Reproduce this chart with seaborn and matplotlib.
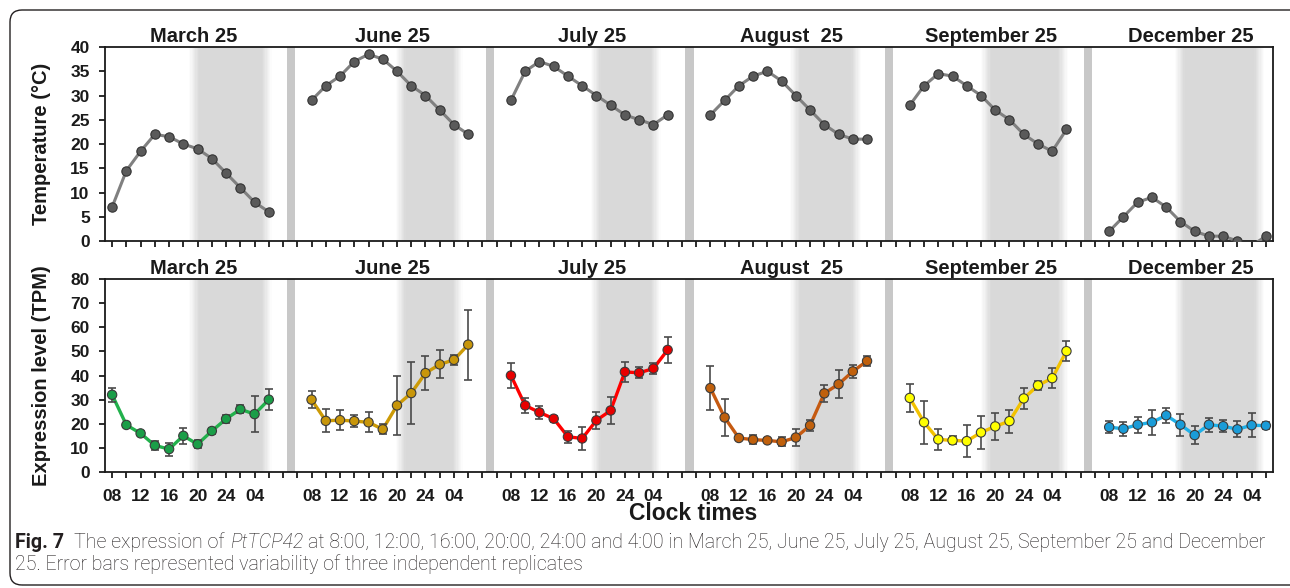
import numpy as np
import pandas as pd
import matplotlib
matplotlib.use("Agg")
import matplotlib.pyplot as plt
import matplotlib.transforms as mtransforms
from matplotlib.patches import FancyBboxPatch
import seaborn as sns

# ── data ───────────────────────────────────────────────────────────────
MONTHS = ["March 25", "June 25", "July 25", "August  25", "September 25", "December 25"]
HOURS = ["08", "10", "12", "14", "16", "18", "20", "22", "24", "02", "04", "06"]

temp_march = [7, 14.5, 18.5, 22, 21.5, 20, 19, 17, 14, 11, 8, 6]
temp_june  = [29, 32, 34, 37, 38.5, 37.5, 35, 32, 30, 27, 24, 22]
temp_july  = [29, 35, 37, 36, 34, 32, 30, 28, 26, 25, 24, 26]
temp_aug   = [26, 29, 32, 34, 35, 33, 30, 27, 24, 22, 21, 21]
temp_sep   = [28, 32, 34.5, 34, 32, 30, 27, 25, 22, 20, 18.5, 23]
temp_dec   = [2, 5, 8, 9, 7, 4, 2, 1, 1, 0, -1, 1]

expr_march = [32, 19.5, 16, 11, 9.5, 15, 11.5, 17, 22, 26, 24, 30]
expr_june  = [30, 21.2, 21.5, 21.1, 20.6, 17.7, 27.6, 32.7, 41, 44.6, 46.5, 52.8]
expr_july  = [40, 27.6, 24.7, 22.1, 14.6, 13.9, 21.4, 25.5, 41.5, 41.1, 42.9, 50.6]
expr_aug   = [34.8, 22.6, 14.1, 13.4, 13.1, 12.5, 14.3, 19.3, 32.6, 36.4, 41.7, 46]
expr_sep   = [30.7, 20.6, 13.5, 13.1, 12.8, 16.4, 18.9, 21.1, 30.5, 35.9, 38.9, 50.1]
expr_dec   = [18.6, 17.9, 19.6, 20.6, 23.5, 19.6, 15.3, 19.6, 19, 17.7, 19.4, 19.2]

err_march = [3, 1, 1, 1.7, 2.7, 3.2, 1.6, 1.2, 1.5, 1.6, 7.3, 4.3]
err_june  = [3.5, 4.8, 4.1, 2.5, 4.2, 2.1, 12.4, 12.9, 7, 5.8, 2.1, 14.5]
err_july  = [5.2, 3, 2.8, 1.3, 2.5, 4.9, 3.6, 5.6, 4, 2.3, 2.3, 5.3]
err_aug   = [9.1, 7.8, 1, 1.9, 0.8, 1.9, 3.5, 2.3, 3.6, 5.7, 2.8, 1.9]
err_sep   = [5.9, 9, 4.5, 1.7, 6.7, 6.8, 5.6, 4.8, 4.4, 1.9, 4.2, 4]
err_dec   = [2.5, 2.8, 3.3, 5.1, 3.1, 4.5, 3.9, 2.9, 2.4, 3.3, 4.9, 1.4]

# night period per month, in time slots from 08:00
night_start = [5.4, 5.9, 5.6, 5.6, 5.0, 4.6]
night_end   = [11.2, 10.6, 10.5, 10.6, 11.1, 10.9]

LINE_COLORS = ["#22b14c", "#cc9a06", "#ff0000", "#c55a11", "#f2c200", "#1fb0e8"]
FACE_COLORS = ["#1a9e48", "#c8960a", "#e80000", "#c0600c", "#ffff00", "#1a9cd8"]

temps = [temp_march, temp_june, temp_july, temp_aug, temp_sep, temp_dec]
exprs = [expr_march, expr_june, expr_july, expr_aug, expr_sep, expr_dec]
errs  = [err_march, err_june, err_july, err_aug, err_sep, err_dec]

PERIOD = 14  # 12 time points + separator slot
rows = []
for k, m in enumerate(MONTHS):
    for j, h in enumerate(HOURS):
        rows.append(dict(month=m, hour=h, x=k * PERIOD + j + 0.5,
                         temp=temps[k][j], expr=exprs[k][j], err=errs[k][j]))
df = pd.DataFrame(rows)

# ── style ──────────────────────────────────────────────────────────────
sns.set_theme(style="ticks")
plt.rcParams["font.family"] = ["Liberation Sans", "DejaVu Sans"]
plt.rcParams["font.weight"] = "bold"
CAP_FONT = ["Roboto", "Liberation Sans", "DejaVu Sans"]
INK = "#1a1a1a"

W, H = 1290, 588
fig = plt.figure(figsize=(W / 100, H / 100), dpi=100)
ax_t = fig.add_axes([105 / W, 1 - 241 / H, 1168 / W, 194 / H])
ax_b = fig.add_axes([105 / W, 1 - 472 / H, 1168 / W, 193 / H])
n_slots = PERIOD * len(MONTHS) - 2


def shade(ax, a, b, ramp=0.7, steps=8):
    core = "#d9d9d9"
    ax.axvspan(a + ramp, b - ramp, color=core, lw=0, zorder=0)
    edges = np.linspace(0, ramp, steps + 1)
    for i in range(steps):
        al = (i + 0.5) / steps
        ax.axvspan(a + edges[i], a + edges[i + 1], color=core, alpha=al, lw=0, zorder=0)
        ax.axvspan(b - edges[i + 1], b - edges[i], color=core, alpha=al, lw=0, zorder=0)


for ax, ymax, ystep in [(ax_t, 40, 5), (ax_b, 80, 10)]:
    for k in range(len(MONTHS)):
        base = k * PERIOD
        shade(ax, base + night_start[k] + 0.5, base + night_end[k] + 0.5)
        if k < len(MONTHS) - 1:
            ax.axvspan(base + 12.75, base + 13.32, color="#c8c8c8", lw=0, zorder=0)
        ax.text(base + 6.2, 1.026, MONTHS[k],
                transform=mtransforms.blended_transform_factory(ax.transData, ax.transAxes),
                ha="center", va="baseline", fontsize=14.5, fontweight="bold", color=INK)
    ax.set_xlim(0, n_slots)
    ax.set_ylim(0, ymax)
    ax.set_yticks(np.arange(0, ymax + 1, ystep))
    ticks = np.arange(n_slots) + 0.5
    ax.set_xticks(ticks)
    labels = []
    for s in range(n_slots):
        j = s % PERIOD
        labels.append(HOURS[j] if (j < 12 and j % 2 == 0 and ax is ax_b) else "")
    ax.set_xticklabels(labels)
    ax.tick_params(axis="both", direction="out", length=4, width=1.3, color=INK)
    ax.tick_params(axis="y", labelsize=12.5, pad=7)
    ax.tick_params(axis="x", labelsize=12.5, pad=8)
    for sp in ax.spines.values():
        sp.set_visible(True)
        sp.set_linewidth(1.3)
        sp.set_color(INK)
    for lbl in ax.get_xticklabels() + ax.get_yticklabels():
        lbl.set_fontweight("bold")
        lbl.set_color(INK)

# temperature row
sns.lineplot(data=df, x="x", y="temp", units="month", estimator=None,
             color="#808080", lw=2.2, ax=ax_t, zorder=3)
sns.scatterplot(data=df, x="x", y="temp", color="#5a5a5a", edgecolor="#333333",
                linewidth=0.8, s=45, ax=ax_t, zorder=4)

# expression row
sns.lineplot(data=df, x="x", y="expr", hue="month",
             palette=dict(zip(MONTHS, LINE_COLORS)), lw=2.4, legend=False,
             ax=ax_b, zorder=3)
ax_b.errorbar(df["x"], df["expr"], yerr=df["err"], fmt="none", ecolor="#4a4a4a",
              elinewidth=1.2, capsize=3, capthick=1.2, zorder=4)
sns.scatterplot(data=df, x="x", y="expr", hue="month",
                palette=dict(zip(MONTHS, FACE_COLORS)), edgecolor="#3a3a3a",
                linewidth=0.8, s=45, legend=False, ax=ax_b, zorder=5)

for ax in (ax_t, ax_b):
    ax.set_xlabel("")
ax_t.set_ylabel("Temperature (°C)", fontsize=14.5, fontweight="bold", color=INK)
ax_b.set_ylabel("Expression level (TPM)", fontsize=14.5, fontweight="bold", color=INK)
ax_t.yaxis.set_label_coords(-0.046, 0.5)
ax_b.yaxis.set_label_coords(-0.046, 0.5)

fig.text(693 / W, 1 - 514 / H, "Clock times", ha="center", va="center",
         fontsize=16.5, fontweight="bold", color=INK)

# ── caption ────────────────────────────────────────────────────────────
ident = mtransforms.IdentityTransform()
renderer = fig.canvas.get_renderer()
CAP_INK = "#231f20"

line1 = [("Fig. 7", "normal", "bold", 2),
         ("The expression of", "normal", "light", 1),
         ("PtTCP42", "italic", "light", 1),
         ("at 8:00, 12:00, 16:00, 20:00, 24:00 and 4:00 in March 25, June 25, July 25, "
          "August 25, September 25 and December", "normal", "light", 0)]
line2 = [("25. Error bars represented variability of three independent replicates",
          "normal", "light", 0)]


def measure(parts, size):
    total = 0
    for txt, st, wt, gap in parts:
        t = fig.text(0, 0, txt, transform=ident, fontsize=size, fontstyle=st,
                     fontweight=wt, family=CAP_FONT)
        total += t.get_window_extent(renderer).width + gap * 0.26 * size * 100 / 72
        t.remove()
    return total


def put_line(parts, x, y, size):
    for txt, st, wt, gap in parts:
        t = fig.text(x, y, txt, transform=ident, fontsize=size, fontstyle=st,
                     fontweight=wt, family=CAP_FONT, color=CAP_INK, va="baseline")
        x = t.get_window_extent(renderer).x1 + gap * 0.26 * size * 100 / 72


cap_size = 10 * 1247 / measure(line1, 10)
put_line(line1, 15, H - 548, cap_size)
put_line(line2, 15, H - 570, cap_size)

frame = FancyBboxPatch((10, 3), 1320, 575, boxstyle="round,pad=0,rounding_size=12",
                       transform=ident, fill=False, ec=CAP_INK, lw=1.0)
fig.add_artist(frame)

fig.savefig("out.png", dpi=100)
